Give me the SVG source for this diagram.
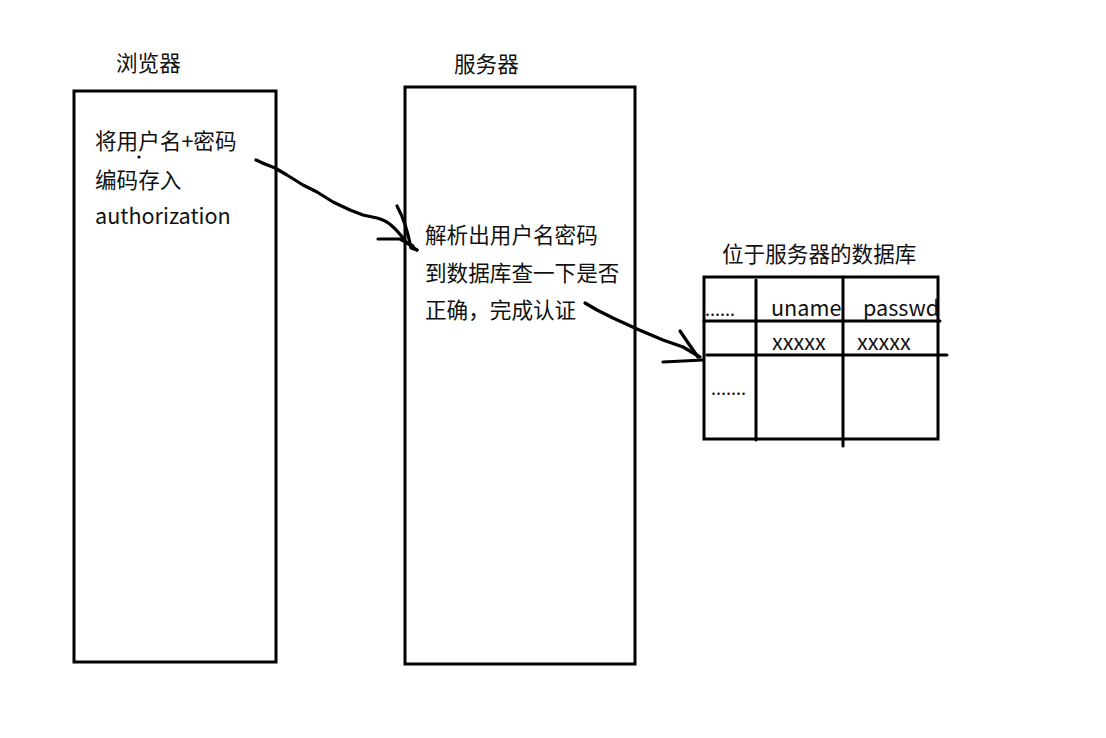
<svg xmlns="http://www.w3.org/2000/svg" width="1106" height="738" viewBox="0 0 1106 738">
<style>
text{font-family:"Noto Sans CJK SC","Microsoft YaHei",sans-serif;font-size:21.6px;fill:#111}
.box{fill:none;stroke:#000;stroke-width:3}
.ln{stroke:#000;stroke-width:3;fill:none;stroke-linecap:round}
.pen{stroke:#000;stroke-width:3.2;fill:none;stroke-linecap:round;stroke-linejoin:round}
.sm{font-size:18px}
</style>
<rect width="1106" height="738" fill="#fff"/>
<g id="browser">
<text x="116" y="71">浏览器</text>
<rect class="box" x="74" y="91" width="202" height="571"/>
<text x="95" y="149">将用户名+密码</text>
<circle cx="139" cy="157" r="1.6" fill="#000"/>
<text x="95" y="188">编码存入</text>
<text x="95" y="224">authorization</text>
</g>
<g id="server">
<text x="454" y="72">服务器</text>
<rect class="box" x="405" y="87" width="230" height="577"/>
<text x="425" y="243">解析出用户名密码</text>
<text x="425" y="281">到数据库查一下是否</text>
<text x="425" y="318">正确，完成认证</text>
</g>
<g id="database">
<text x="722" y="262">位于服务器的数据库</text>
<rect class="box" x="704" y="277" width="234" height="162"/>
<line class="ln" x1="756" y1="280" x2="756" y2="440"/>
<line class="ln" x1="843" y1="277" x2="843" y2="446"/>
<line class="ln" x1="704" y1="321" x2="940" y2="321"/>
<line class="ln" x1="707" y1="355" x2="947" y2="355"/>
<text x="705" y="316" class="sm">......</text>
<text x="771" y="316">uname</text>
<text x="863" y="316">passwd</text>
<text x="772" y="350">xxxxx</text>
<text x="857" y="350">xxxxx</text>
<text x="711" y="395" class="sm">.......</text>
</g>
<g id="connectors">
<path class="pen" d="M256,160 C262,163 270,166 275,168 L287,175 L303,185 L317,192 L333,202 L350,210 L363,215 L377,218 C384,220 388,222 392,226 C398,231 403,238 407,243 L417,250"/>
<path class="pen" d="M397,206 C402,215 408,232 411,248 L417,250"/>
<path class="pen" d="M378,239 L400,239 L413,246"/>
<path class="pen" d="M585,303 L597,310 L613,318 L637,329 L663,340 L683,347 L700,357"/>
<path class="pen" d="M680,331 C686,340 693,350 698,357"/>
<path class="pen" d="M663,362 L703,360"/>
</g>
</svg>
